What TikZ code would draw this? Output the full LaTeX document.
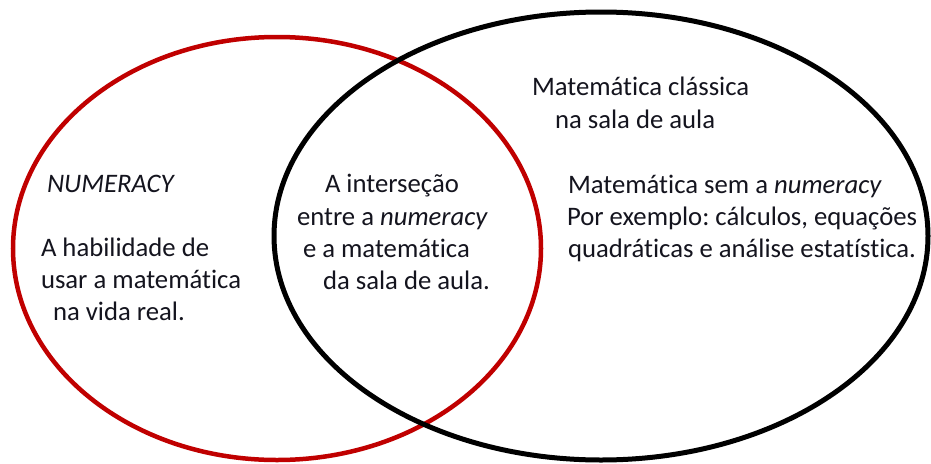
\documentclass[tikz,border=0pt]{standalone}
\usepackage{fontspec}
\setmainfont[Ligatures=NoCommon]{Carlito}
\frenchspacing
\definecolor{vennred}{RGB}{192,0,0}
\definecolor{txt}{RGB}{20,20,30}
\begin{document}
\begin{tikzpicture}[x=1pt,y=-1pt,
  lbl/.style={anchor=base west,inner sep=0pt,outer sep=0pt,text=txt,font=\fontsize{26.7}{32}\selectfont\frenchspacing},
  redring/.style={draw=vennred,line width=4.5pt},
  blackring/.style={draw=black,line width=5pt}]
\useasboundingbox[fill=white] (0,0) rectangle (931,463);
\draw[redring] (277,248.5) ellipse [x radius=264,y radius=211.5];
\draw[blackring] (601,236) ellipse [x radius=327,y radius=224];
% left set
\node[lbl] (num) at (47,192) {\textit{NUMERACY}};
\node[lbl] (l1) at (41,256) {A habilidade de};
\node[lbl] (l2) at (41,288) {usar a matemática};
\node[lbl] (l3) at (53,320) {na vida real.};
% intersection
\node[lbl] (i1) at (325,192) {A interseção};
\node[lbl] (i2) at (297,225) {entre a \textit{numeracy}};
\node[lbl] (i3) at (303,257) {e a matemática};
\node[lbl] (i4) at (323,289) {da sala de aula.};
% right set
\node[lbl] (r1) at (532,95) {Matemática clássica};
\node[lbl] (r2) at (555,128) {na sala de aula};
\node[lbl] (r3) at (568,193) {Matemática sem a \textit{numeracy}};
\node[lbl] (r4) at (567,225) {Por exemplo: cálculos, equações};
\node[lbl] (r5) at (568,257) {quadráticas e análise estatística.};
\end{tikzpicture}
\end{document}
